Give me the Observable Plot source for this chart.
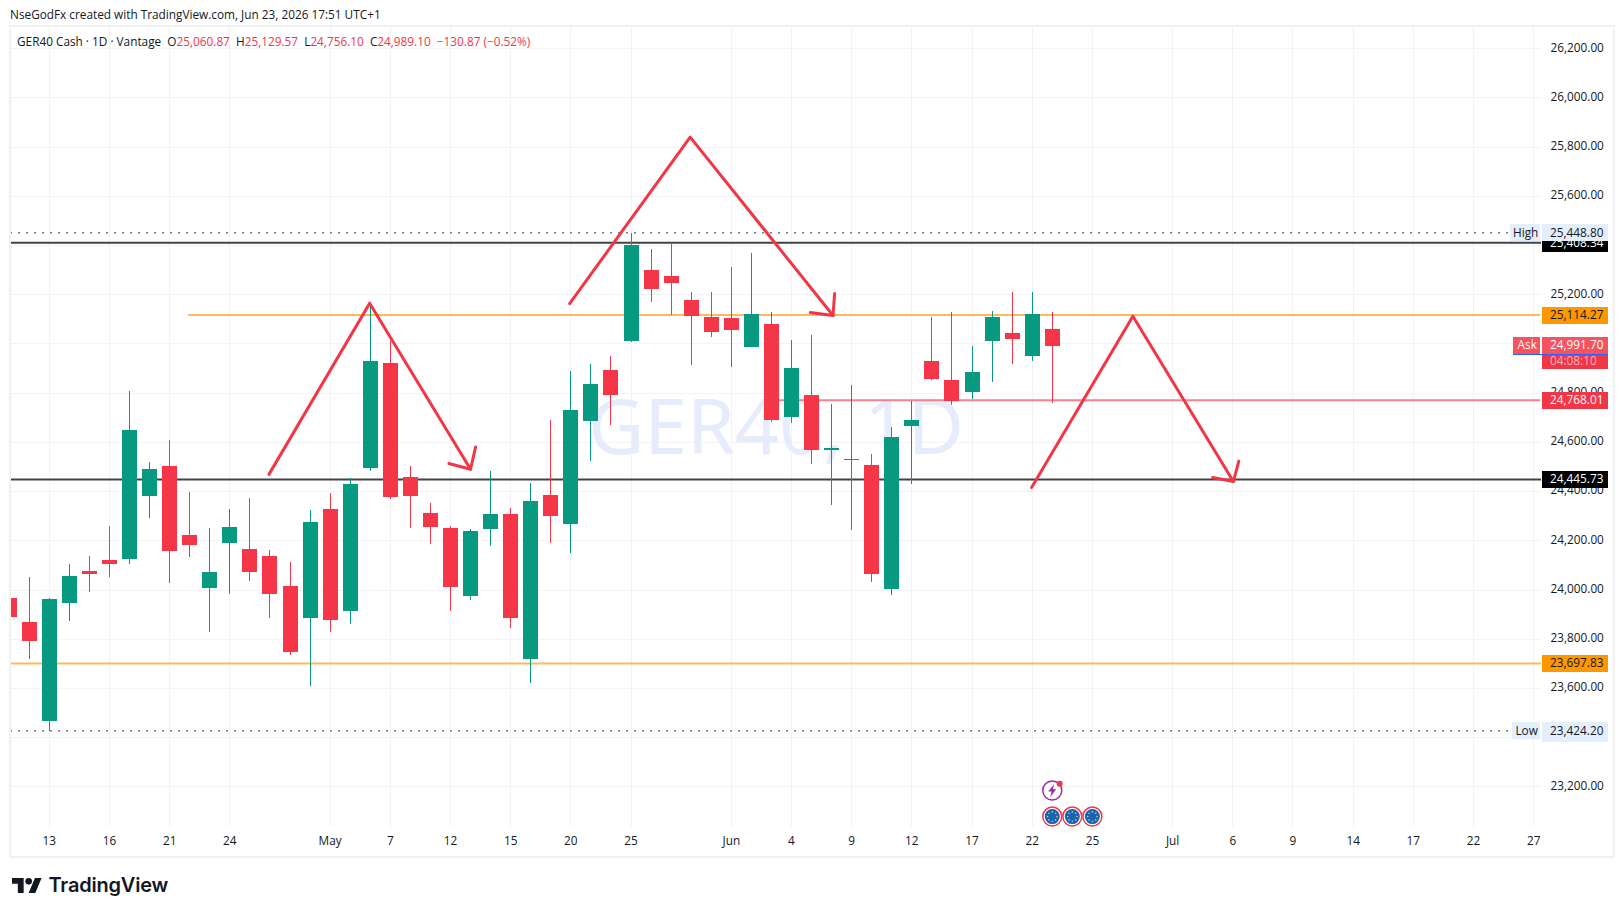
<!DOCTYPE html>
<html>
<head>
<meta charset="utf-8">
<script src="https://cdn.jsdelivr.net/npm/d3@7"></script>
<script src="https://cdn.jsdelivr.net/npm/@observablehq/plot@0.6"></script>
<style>
html,body{margin:0;padding:0;background:#fff;width:1623px;height:916px;overflow:hidden}
#wrap{position:relative;width:1623px;height:916px}
#wrap svg.plot{position:absolute;left:0;top:0;background:transparent}
.frame{position:absolute;left:9px;top:25px;width:1602px;height:829px;border:2px solid #f0f1f3}
.hd{position:absolute;font:11.8px "Open Sans",sans-serif;color:#131722;white-space:pre}
.hd .r{color:#f23645}
.logo{position:absolute;left:12px;top:878px}
.logot{position:absolute;left:48.5px;top:873px;font:600 20px Inter,sans-serif;color:#131722;letter-spacing:-.2px}
</style>
</head>
<body>
<div id="wrap">
<div class="frame"></div>
<div class="hd" style="left:10px;top:6px">NseGodFx created with TradingView.com, Jun 23, 2026 17:51 UTC+1</div>
<div class="hd" style="left:17px;top:33px">GER40 Cash · 1D · Vantage  O<span class="r">25,060.87</span>  H<span class="r">25,129.57</span>  L<span class="r">24,756.10</span>  C<span class="r">24,989.10</span>  <span class="r">−130.87 (−0.52%)</span></div>
<svg class="logo" width="30" height="15" viewBox="0 4 36 18"><path fill="#131722" d="M14 22H7V11H0V4h14v18zM28 22h-8l7.5-18h8L28 22z"/><circle fill="#131722" cx="20" cy="8" r="4"/></svg>
<div class="logot">TradingView</div>
</div>
<script>
// Candle series (session index = position in the array)
const opens  = [23966,23868,23466,23945,24075,24120,24124,24380,24502,24222,24006,24189,24165,24136,24014,23884,24327,23913,24494,24921,24457,24311,24250,23974,24246,24307,23718,24384,24266,24685,24892,25010,25299,25275,25177,25108,25104,24986,25079,24701,24791,24567,24527,24506,24002,24665,24929,24852,24803,25010,25043,24949,25060.87];
const closes = [23888,23791,23962,24055,24063,24104,24649,24490,24157,24181,24071,24254,24071,23982,23746,24275,23876,24429,24929,24376,24380,24254,24010,24238,24307,23884,24360,24299,24730,24836,24791,25401,25222,25246,25112,25047,25055,25120,24689,24901,24567,24575,24531,24063,24620,24689,24856,24766,24884,25108,25018,25120,24989.10];
const highs  = [23966,24051,23966,24104,24136,24258,24807,24518,24608,24397,24250,24327,24372,24161,24112,24323,24392,24453,25153,25010,24502,24352,24258,24246,24482,24331,24433,24689,24888,24917,24949,25448.8,25384,25405,25210,25210,25311,25368,25128,25014,25035,24754,24832,24551,24661,24766,25108,25128,24990,25132,25210,25210,25129.57];
const lows   = [23888,23718,23424.2,23872,23990,24051,24104,24291,24027,24132,23827,23982,24035,23884,23734,23608,23827,23860,24482,24368,24250,24185,23913,23957,24177,23844,23620,24189,24149,24523,24669,25008,25169,25116,24913,25027,24905,24986,24681,24677,24510,24344,24242,24031,23978,24429,24852,24750,24775,24844,24917,24929,24756.10];

// Time axis: bar index and its label
const tickBars   = [2,5,8,11,16,19,22,25,28,31,36,39,42,45,48,51,54,58,61,64,67,70,73,76];
const tickLabels = ["13","16","21","24","May","7","12","15","20","25","Jun","4","9","12","17","22","25","Jul","6","9","14","17","22","27"];
// Price axis
const priceTicks = [23200,23400,23600,23800,24000,24200,24400,24600,24800,25000,25200,25400,25600,25800,26000,26200];

// Horizontal levels
const blackLevels = [25408.34,24445.73];
const orangeFull = 23697.83;
const orangePart = 25114.27, orangeStart = 8.95;
const pinkLevel = 24768.01, pinkStart = 38.3;
const highPrice = 25448.80, lowPrice = 23424.20;
const askPrice = 24991.70, spreadLine = 24957.5, countdownPrice = 24927;

// Drawn zigzag arrows: bar, price
const arrowShaft1 = [[12.95,24470],[17.97,25166],[23.0,24491]];
const arrowHead1  = [[21.92,24514],[23.0,24491],[23.25,24581]];
const arrowShaft2 = [[27.94,25164],[33.95,25841],[41.07,25116]];
const arrowHead2  = [[39.94,25128],[41.07,25116],[41.15,25205]];
const arrowShaft3 = [[50.97,24417],[56.02,25113],[61.03,24441]];
const arrowHead3  = [[60.0,24457],[61.03,24441],[61.3,24524]];
const arrows = [arrowShaft1,arrowHead1,arrowShaft2,arrowHead2,arrowShaft3,arrowHead3];

// Event badges
const eventBolt = {bar:52,price:23185};
const eventAlert = {bar:52.37,price:23212};
const euEvents = [{bar:52,price:23079},{bar:53,price:23079},{bar:54,price:23079}];
const starOffsets = d3.range(8).map(k=>[Math.cos(k*Math.PI/4)*4.7,Math.sin(k*Math.PI/4)*4.7]);
const boltSymbol = {draw(c){c.moveTo(2,-6.5);c.lineTo(-4,1);c.lineTo(-0.6,1);c.lineTo(-2.2,6.5);c.lineTo(4,-1.2);c.lineTo(0.6,-1.2);c.closePath();}};

const UP="#089981", DOWN="#f43648", GRID="#f2f3f5", INK="#131722", ORANGE="#ffb95a", ORANGETAG="#ff9800", PINK="#f7828d", LINE="#434343", PALE="#e3effd";
const FONT='"Open Sans",sans-serif', FS=11.8, DY=-0.8;
const fmt = d3.format(",.2f");
const candles = opens.map((o,i)=>({i,o,c:closes[i],h:highs[i],l:lows[i],col:closes[i]>=o?UP:DOWN}));
const arrowPts = arrows.flatMap((a,k)=>a.map(([x,y])=>({x,y,k})));
const lastBar = 76.35, tagL = 76.44, tagR = 79.72;
const labelBarL = 74.85;

function tag(price,bg,fg,text,opts={}){
  return [
    Plot.ruleY([price],{x1:tagL,x2:tagR,stroke:bg,strokeWidth:opts.h||17,dy:opts.dy??DY,clip:false,shapeRendering:"crispEdges"}),
    Plot.text([price],{x:tagL,y:d=>d,text:()=>text,fill:fg,textAnchor:"start",dx:7.5,dy:DY,fontSize:FS,fontFamily:FONT,clip:false})
  ];
}
function sideLabel(price,text,x1){
  return [
    Plot.ruleY([price],{x1,x2:lastBar,stroke:PALE,strokeWidth:17,dy:DY,clip:false,shapeRendering:"crispEdges"}),
    Plot.text([price],{x:(x1+lastBar)/2,y:d=>d,text:()=>text,fill:INK,dy:DY,fontSize:FS,fontFamily:FONT,clip:false})
  ];
}

const chart = Plot.plot({
  width:1623,height:916,
  marginTop:26,marginBottom:89,marginLeft:10,marginRight:82,
  style:{background:"transparent",fontFamily:FONT},
  x:{type:"linear",domain:[0.065,lastBar+0.04],axis:null},
  y:{type:"linear",domain:[23034.6,26290.6],axis:null},
  marks:[
    Plot.ruleX(tickBars,{x:d=>d,stroke:GRID,shapeRendering:"crispEdges"}),
    Plot.ruleY(priceTicks,{y:d=>d,stroke:GRID,shapeRendering:"crispEdges"}),
    Plot.text(["GER40, 1D"],{frameAnchor:"middle",text:d=>d,fontSize:77,dy:2,fill:"#e7ecfd",fontFamily:'"Noto Sans",sans-serif'}),
    // price and time labels
    Plot.axisY(priceTicks,{anchor:"right",tickSize:0,tickPadding:9,dy:-1,tickFormat:d=>fmt(d),fontSize:FS,fill:INK,label:null,fontFamily:FONT}),
    Plot.axisX(tickBars,{anchor:"bottom",tickSize:0,tickPadding:9,tickFormat:d=>tickLabels[tickBars.indexOf(d)],fontSize:FS,fill:INK,label:null,fontFamily:FONT}),
    // level lines
    Plot.ruleY([orangePart],{x1:orangeStart,x2:lastBar,stroke:ORANGE,strokeWidth:2,dy:DY}),
    Plot.ruleY([orangeFull],{stroke:ORANGE,strokeWidth:2,dy:DY}),
    Plot.ruleY([pinkLevel],{x1:pinkStart,x2:lastBar,stroke:PINK,strokeWidth:2,dy:DY}),
    Plot.ruleY(blackLevels,{y:d=>d,stroke:LINE,strokeWidth:2,dy:DY}),
    Plot.ruleY([highPrice,lowPrice],{y:d=>d,x1:0.065,x2:labelBarL,stroke:"#787b86",strokeWidth:1.5,strokeDasharray:"2 6",dy:DY}),
    // candles
    Plot.ruleX(candles,{x:"i",y1:"l",y2:"h",stroke:"col",strokeWidth:1,clip:true,shapeRendering:"crispEdges"}),
    Plot.ruleX(candles,{x:"i",y1:"o",y2:"c",stroke:"col",strokeWidth:15,clip:true,shapeRendering:"crispEdges"}),
    // arrows
    Plot.line(arrowPts,{x:"x",y:"y",z:"k",stroke:"#f23645",strokeWidth:3,strokeLinejoin:"round",strokeLinecap:"round",curve:"linear"}),
    // tags
    ...tag(25408.34,"#000","#fff","25,408.34",{h:18}),
    ...tag(highPrice,PALE,INK,fmt(highPrice)),
    ...sideLabel(highPrice,"High",labelBarL),
    ...tag(orangePart,ORANGETAG,INK,fmt(orangePart)),
    ...tag(countdownPrice,"#f23645","#fbb4bb","04:08:10",{h:16}),
    ...tag(askPrice,"#f7525f","#fff",fmt(askPrice)),
    Plot.ruleY([askPrice],{x1:75,x2:lastBar,stroke:"#f7525f",strokeWidth:17,dy:DY,clip:false,shapeRendering:"crispEdges"}),
    Plot.text([askPrice],{x:75.68,y:d=>d,text:()=>"Ask",fill:"#fff",dy:DY,fontSize:FS,fontFamily:FONT,clip:false}),
    Plot.ruleY([spreadLine],{x1:75,x2:tagR,stroke:"#2962ff",strokeWidth:1,clip:false,shapeRendering:"crispEdges"}),
    ...tag(pinkLevel,"#f23645","#fff",fmt(pinkLevel)),
    ...tag(blackLevels[1],"#000","#fff",fmt(blackLevels[1])),
    ...tag(orangeFull,ORANGETAG,INK,fmt(orangeFull)),
    ...tag(lowPrice,PALE,INK,fmt(lowPrice),{h:20,dy:0.7}),
    ...sideLabel(lowPrice,"Low",labelBarL+0.1),
    // events
    Plot.dot([eventBolt],{x:"bar",y:"price",r:9.5,fill:"#fff",stroke:"#9c27b0",strokeWidth:1.5}),
    Plot.dot([eventBolt],{x:"bar",y:"price",symbol:boltSymbol,fill:"#9c27b0",stroke:"none"}),
    Plot.dot([eventAlert],{x:"bar",y:"price",r:3,fill:"#f23645"}),
    Plot.dot(euEvents,{x:"bar",y:"price",r:9.5,fill:"#fff",stroke:"#f23645",strokeWidth:1.5}),
    Plot.dot(euEvents,{x:"bar",y:"price",r:7.5,fill:"#1464b8"}),
    ...starOffsets.map(([dx,dy])=>Plot.dot(euEvents,{x:"bar",y:"price",r:0.8,fill:"#f5c542",dx,dy}))
  ]
});
document.getElementById("wrap").appendChild(chart);
</script>
</body>
</html>
